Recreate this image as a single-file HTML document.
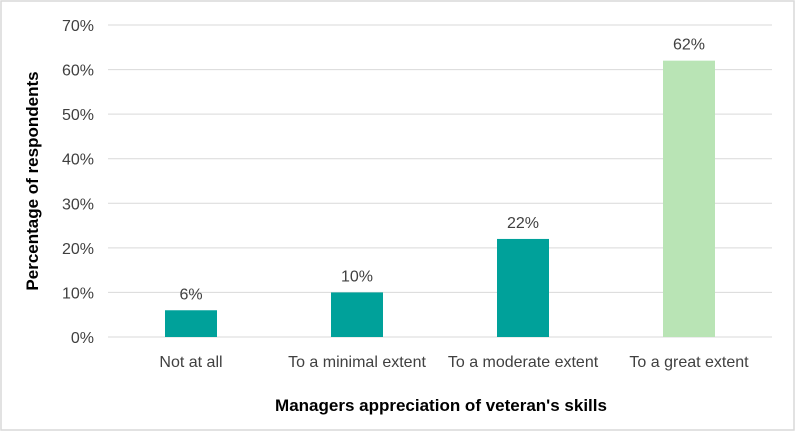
<!DOCTYPE html>
<html><head><meta charset="utf-8"><style>
body{margin:0;background:#fff}
svg{display:block;font-family:"Liberation Sans",sans-serif}
</style></head><body>
<svg id="chart" width="795" height="431">
<rect x="1" y="1" width="793" height="429" fill="#fff" stroke="#d9d9d9" stroke-width="1.5"/>
<g id="grid"></g><g id="bars"></g>
<text x="38" y="181" transform="rotate(-90 38 181)" text-anchor="middle" font-size="17" font-weight="bold" fill="#000">Percentage of respondents</text>
<text x="441" y="411" text-anchor="middle" font-size="17" font-weight="bold" fill="#000">Managers appreciation of veteran's skills</text>
</svg>
<script>
const categories=["Not at all","To a minimal extent","To a moderate extent","To a great extent"];
const values=[6,10,22,62];
const colors=["#00a19a","#00a19a","#00a19a","#b9e4b5"];
const yTicks=[0,10,20,30,40,50,60,70];
const NS="http://www.w3.org/2000/svg";
const x0=108,x1=772,y0=337,y70=25;
const y=v=>y0-(v/70)*(y0-y70);
const bw=(x1-x0)/categories.length;
const cx=i=>x0+bw*(i+0.5);
const grid=document.getElementById('grid'),bars=document.getElementById('bars');
function mk(t,a,p){const e=document.createElementNS(NS,t);for(const k in a)e.setAttribute(k,a[k]);p.appendChild(e);return e;}
yTicks.forEach(t=>{
 const l=mk('line',{x1:x0,x2:x1,y1:y(t),y2:y(t),stroke:'#d9d9d9','stroke-width':1},grid);
 
 
 const tx=mk('text',{x:94,y:y(t)+6,'text-anchor':'end','font-size':16,fill:'#404040'},grid);
 tx.textContent=t+'%';
 
 
});
categories.forEach((c,i)=>{
 const r=mk('rect',{x:cx(i)-26,y:y(values[i]),width:52,height:y0-y(values[i]),fill:colors[i]},bars);
 
 
 const v=mk('text',{x:cx(i),y:y(values[i])-11,'text-anchor':'middle','font-size':16,fill:'#404040'},bars);
 v.textContent=values[i]+'%';
 
 
 const lb=mk('text',{x:cx(i),y:367,'text-anchor':'middle','font-size':16,fill:'#404040'},bars);
 lb.textContent=c;
 
 
});
</script>
</body></html>
